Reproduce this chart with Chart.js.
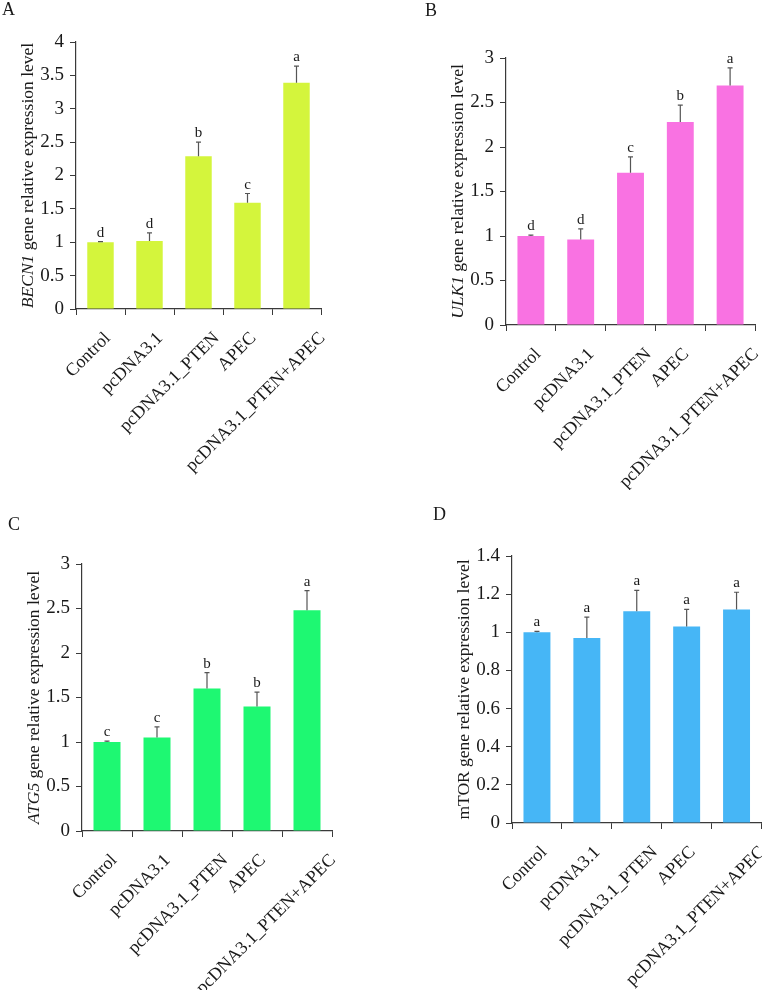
<!DOCTYPE html>
<html>
<head>
<meta charset="utf-8">
<title>Gene relative expression</title>
<script src="https://cdn.jsdelivr.net/npm/chart.js@4.4.1/dist/chart.umd.min.js"></script>
<style>
  body { margin: 0; background: #fff; }
  #wrap { position: relative; width: 762px; height: 990px; overflow: hidden; }
  canvas { position: absolute; }
  .tag { position: absolute; font: 18px/1 'Liberation Serif', 'Times New Roman', serif; color: #1a1a1a; }
</style>
</head>
<body>
<div id="wrap">
  <canvas id="chartA" width="381" height="490" style="left:0;top:0"></canvas>
  <canvas id="chartB" width="381" height="490" style="left:381px;top:0"></canvas>
  <canvas id="chartC" width="381" height="500" style="left:0;top:490px"></canvas>
  <canvas id="chartD" width="381" height="500" style="left:381px;top:490px"></canvas>
  <div class="tag" style="left:2px;top:0">A</div>
  <div class="tag" style="left:425px;top:1px">B</div>
  <div class="tag" style="left:8px;top:515px">C</div>
  <div class="tag" style="left:433px;top:505px">D</div>
</div>
<script>
// ===== DATA =====

const categories = ['Control', 'pcDNA3.1', 'pcDNA3.1_PTEN', 'APEC', 'pcDNA3.1_PTEN+APEC'];

// A - BECN1
const becn1Mean = [1.00, 1.02, 2.29, 1.59, 3.39];
const becn1Sd = [0.01, 0.12, 0.21, 0.14, 0.25];
const becn1Letters = ['d', 'd', 'b', 'c', 'a'];
const becn1Ticks = [0, 0.5, 1, 1.5, 2, 2.5, 3, 3.5, 4];

// B - ULK1
const ulk1Mean = [1.00, 0.96, 1.71, 2.28, 2.69];
const ulk1Sd = [0.01, 0.12, 0.18, 0.19, 0.20];
const ulk1Letters = ['d', 'd', 'c', 'b', 'a'];
const ulk1Ticks = [0, 0.5, 1, 1.5, 2, 2.5, 3];

// C - ATG5
const atg5Mean = [1.00, 1.05, 1.60, 1.40, 2.48];
const atg5Sd = [0.01, 0.12, 0.18, 0.16, 0.22];
const atg5Letters = ['c', 'c', 'b', 'b', 'a'];
const atg5Ticks = [0, 0.5, 1, 1.5, 2, 2.5, 3];

// D - mTOR
const mtorMean = [1.00, 0.97, 1.11, 1.03, 1.12];
const mtorSd = [0.005, 0.11, 0.11, 0.09, 0.09];
const mtorLetters = ['a', 'a', 'a', 'a', 'a'];
const mtorTicks = [0, 0.2, 0.4, 0.6, 0.8, 1, 1.2, 1.4];

// ===== PLUGINS =====

const SERIF = "'Liberation Serif', 'Times New Roman', serif";
const AXIS_COLOR = '#3a3a3a';

// error bar (upper half only) + significance letter above it
const errorBars = {
  id: 'errorBars',
  afterDatasetsDraw(chart) {
    const ctx = chart.ctx;
    const yScale = chart.scales.y;
    const ds = chart.data.datasets[0];
    const meta = chart.getDatasetMeta(0);
    ctx.save();
    ctx.strokeStyle = '#555';
    ctx.lineWidth = 1.2;
    ctx.fillStyle = '#1a1a1a';
    ctx.font = '15px ' + SERIF;
    ctx.textAlign = 'center';
    meta.data.forEach((bar, i) => {
      const top = yScale.getPixelForValue(ds.data[i] + ds.sd[i]);
      ctx.beginPath();
      ctx.moveTo(bar.x, bar.y);
      ctx.lineTo(bar.x, top);
      ctx.moveTo(bar.x - 2.5, top);
      ctx.lineTo(bar.x + 2.5, top);
      ctx.stroke();
      ctx.fillText(ds.letters[i], bar.x, top - 5);
    });
    ctx.restore();
  }
};

// y axis title, gene name in italic
const yTitle = {
  id: 'yTitle',
  afterDraw(chart) {
    const ctx = chart.ctx;
    const area = chart.chartArea;
    const ds = chart.data.datasets[0];
    const italicFont = 'italic 17.5px ' + SERIF;
    const normalFont = '17.5px ' + SERIF;
    ctx.save();
    ctx.font = italicFont;
    const w1 = ctx.measureText(ds.gene).width;
    ctx.font = normalFont;
    const w2 = ctx.measureText(ds.rest).width;
    ctx.translate(area.left - 48, (area.top + area.bottom) / 2);
    ctx.rotate(-Math.PI / 2);
    ctx.fillStyle = '#1a1a1a';
    ctx.textBaseline = 'middle';
    ctx.textAlign = 'left';
    let x = -(w1 + w2) / 2;
    ctx.font = italicFont;
    ctx.fillText(ds.gene, x, 0);
    ctx.font = normalFont;
    ctx.fillText(ds.rest, x + w1, 0);
    ctx.restore();
  }
};

// category labels at 45deg, placed like the original figure (longer labels sit a bit further right)
const xLabels = {
  id: 'xLabels',
  afterDraw(chart) {
    const ctx = chart.ctx;
    const xScale = chart.scales.x;
    ctx.save();
    ctx.font = '18px ' + SERIF;
    ctx.fillStyle = '#1a1a1a';
    ctx.textAlign = 'right';
    ctx.textBaseline = 'middle';
    chart.data.labels.forEach((label, i) => {
      const w = ctx.measureText(label).width;
      ctx.save();
      ctx.translate(xScale.getPixelForValue(i) + 0.14 * w - 0.5, xScale.top + 26.5);
      ctx.rotate(-Math.PI / 4);
      ctx.fillText(label, 0, 0);
      ctx.restore();
    });
    ctx.restore();
  }
};

// ===== BUILD ONE PANEL =====

const Y_AXIS_W = 62;

function makePanel(canvasId, plot, color, mean, sd, letters, ticks, gene, rest) {
  const canvas = document.getElementById(canvasId);
  return new Chart(canvas, {
    type: 'bar',
    data: {
      labels: categories,
      datasets: [{
        data: mean,
        sd: sd,
        letters: letters,
        gene: gene,
        rest: rest,
        backgroundColor: color,
        barPercentage: 0.54,
        categoryPercentage: 1.0
      }]
    },
    options: {
      responsive: false,
      animation: false,
      layout: {
        padding: {
          left: plot.l - Y_AXIS_W,
          top: plot.t,
          right: canvas.width - plot.r,
          bottom: 0
        }
      },
      plugins: {
        legend: { display: false },
        tooltip: { enabled: false }
      },
      scales: {
        x: {
          afterFit: (scale) => { scale.height = canvas.height - plot.b; },
          grid: { drawOnChartArea: false, drawTicks: true, tickLength: 6, color: AXIS_COLOR },
          border: { display: true, color: AXIS_COLOR, width: 1.2 },
          ticks: { display: false, autoSkip: false }
        },
        y: {
          min: ticks[0],
          max: ticks[ticks.length - 1],
          afterFit: (scale) => { scale.width = Y_AXIS_W; },
          afterBuildTicks: (scale) => { scale.ticks = ticks.map(v => ({ value: v })); },
          grid: { drawOnChartArea: false, drawTicks: true, tickLength: 6, color: AXIS_COLOR },
          border: { display: true, color: AXIS_COLOR, width: 1.2 },
          ticks: {
            padding: 6,
            color: '#1a1a1a',
            font: { family: SERIF, size: 19 },
            callback: (v) => String(+Number(v).toFixed(2))
          }
        }
      }
    },
    plugins: [errorBars, yTitle, xLabels]
  });
}

makePanel('chartA', { l: 76, t: 42, r: 321, b: 309 }, '#d4f53c',
  becn1Mean, becn1Sd, becn1Letters, becn1Ticks, 'BECN1', ' gene relative expression level');

makePanel('chartB', { l: 125, t: 58, r: 374, b: 325 }, '#f972e2',
  ulk1Mean, ulk1Sd, ulk1Letters, ulk1Ticks, 'ULK1', ' gene relative expression level');

makePanel('chartC', { l: 82, t: 74, r: 332, b: 341 }, '#1ef872',
  atg5Mean, atg5Sd, atg5Letters, atg5Ticks, 'ATG5', ' gene relative expression level');

makePanel('chartD', { l: 131, t: 66, r: 380.5, b: 333 }, '#46b6f6',
  mtorMean, mtorSd, mtorLetters, mtorTicks, '', 'mTOR gene relative expression level');
</script>
</body>
</html>
